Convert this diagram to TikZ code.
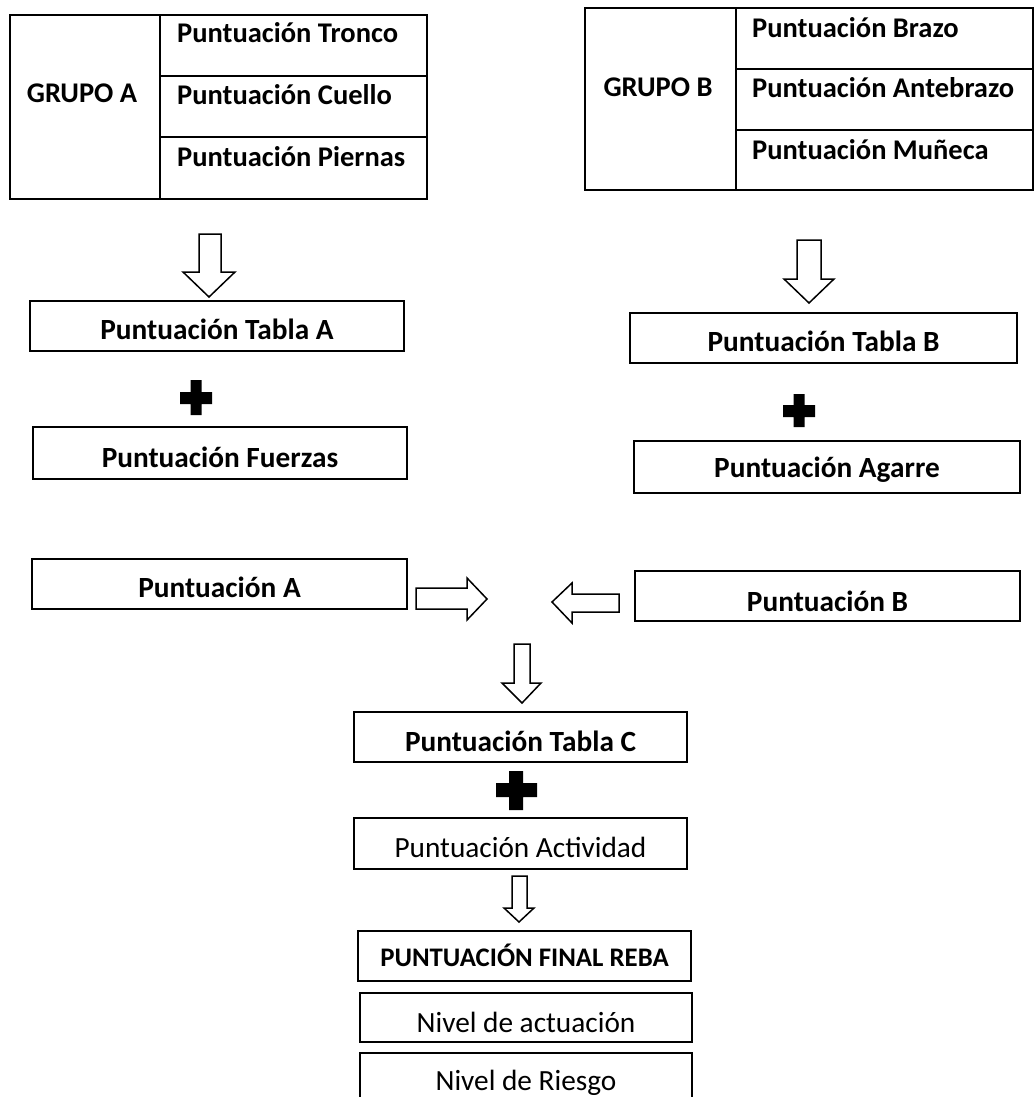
\documentclass[tikz,border=0pt]{standalone}
\usepackage{fontspec}
\setmainfont{Carlito}
\begin{document}
\begin{tikzpicture}[x=1pt,y=-1pt,
  txt/.style={font=\fontsize{29.3}{33}\selectfont},
  btxt/.style={font=\fontsize{29.3}{33}\selectfont\bfseries},
  ttxt/.style={font=\fontsize{28.5}{32}\selectfont\bfseries},
  box/.style={draw, line width=1.3pt, inner sep=0pt},
  tbl/.style={draw, line width=2pt},
  blk/.style={draw, line width=1.5pt, fill=white, line join=miter},
  plus/.style={fill=black}]
\clip (0,0) rectangle (1035,1097);
\fill[white] (0,0) rectangle (1035,1097);

% Group A table
\draw[tbl] (10,15) rectangle (427,199);
\draw[tbl] (160,15) -- (160,199) (160,76) -- (427,76) (160,137) -- (427,137);
\node[ttxt, anchor=base] (ga) at (82,103) {GRUPO A};
\node[ttxt, anchor=base west, inner sep=0pt] (ga1) at (177,43) {Puntuación Tronco};
\node[ttxt, anchor=base west, inner sep=0pt] (ga2) at (177,105) {Puntuación Cuello};
\node[ttxt, anchor=base west, inner sep=0pt] (ga3) at (177,166) {Puntuación Piernas};

% Group B table
\draw[tbl] (585,8) rectangle (1033,190);
\draw[tbl] (736,8) -- (736,190) (736,69) -- (1033,69) (736,130) -- (1033,130);
\node[ttxt, anchor=base] (gb) at (658,97) {GRUPO B};
\node[ttxt, anchor=base west, inner sep=0pt] (gb1) at (752,38) {Puntuación Brazo};
\node[ttxt, anchor=base west, inner sep=0pt] (gb2) at (752,98) {Puntuación Antebrazo};
\node[ttxt, anchor=base west, inner sep=0pt] (gb3) at (752,159) {Puntuación Muñeca};

% Boxes
\node[box, btxt, minimum width=374pt, text height=38pt, text depth=12pt] (tabA) at (217,326) {Puntuación Tabla A};
\node[box, btxt, minimum width=374pt, text height=40pt, text depth=12pt] (fuer) at (220,453) {Puntuación Fuerzas};
\node[box, btxt, minimum width=387pt, text height=38pt, text depth=12pt] (tabB) at (823.5,338) {Puntuación Tabla B};
\node[box, btxt, minimum width=386pt, text height=36pt, text depth=16pt] (agar) at (827,467) {Puntuación Agarre};
\node[box, btxt, minimum width=375pt, text height=38pt, text depth=12pt] (puA) at (219.5,584) {Puntuación A};
\node[box, btxt, minimum width=385pt, text height=40pt, text depth=10pt] (puB) at (827.5,596) {Puntuación B};
\node[box, btxt, minimum width=333pt, text height=39pt, text depth=11pt] (tabC) at (520.5,737) {Puntuación Tabla C};
\node[box, txt, minimum width=333pt, text height=39pt, text depth=12pt] (acti) at (520.5,843.5) {Puntuación Actividad};
\node[box, minimum width=333pt, text height=35pt, text depth=15pt, font=\fontsize{26.8}{30}\selectfont\bfseries] (final) at (524.5,956) {PUNTUACIÓN FINAL REBA};
\node[box, txt, minimum width=332pt, text height=39pt, text depth=10pt] (nivA) at (526,1017.5) {Nivel de actuación};
\node[box, txt, minimum width=332pt, text height=37pt, text depth=20pt] (nivR) at (526,1081.5) {Nivel de Riesgo};

% Block arrows
\draw[blk] (199,234) -- (221,234) -- (221,272) -- (235,272) -- (209,297) -- (183,272) -- (199,272) -- cycle;
\draw[blk] (797,240) -- (821,240) -- (821,279) -- (834,279) -- (809,303) -- (784,279) -- (797,279) -- cycle;
\draw[blk] (416,588) -- (467,588) -- (467,578) -- (487,599) -- (467,620) -- (467,609) -- (416,609) -- cycle;
\draw[blk] (619,594) -- (572,594) -- (572,583) -- (552,602) -- (572,623) -- (572,612) -- (619,612) -- cycle;
\draw[blk] (514,644) -- (530,644) -- (530,683) -- (541,683) -- (522,703) -- (502,683) -- (514,683) -- cycle;
\draw[blk] (512,876) -- (527,876) -- (527,908) -- (534,908) -- (519,922) -- (504,908) -- (512,908) -- cycle;

% Plus signs
\fill[plus] (190.5,380) rectangle (201.5,415) (180,392) rectangle (212,404);
\fill[plus] (793.5,394) rectangle (804.5,427) (783,405) rectangle (815,417);
\fill[plus] (509,771) rectangle (523,810) (496,783) rectangle (537,797);
\end{tikzpicture}
\end{document}
